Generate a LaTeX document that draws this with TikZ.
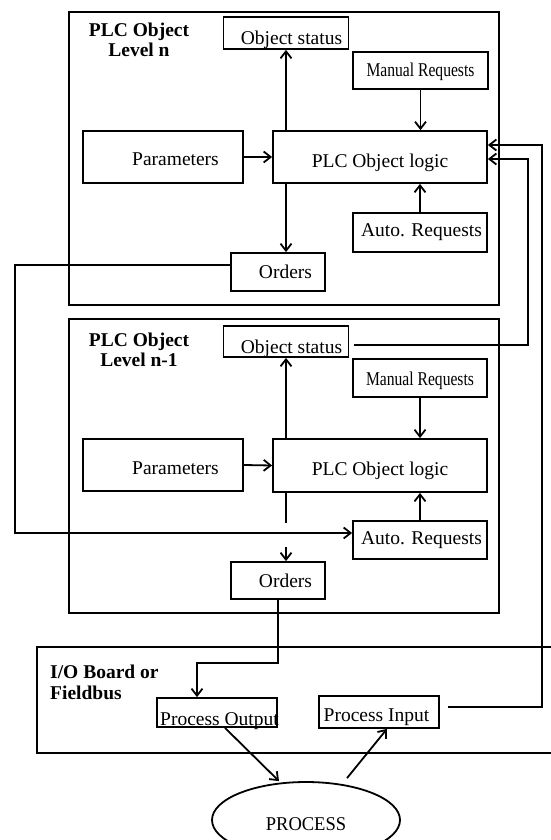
\documentclass[tikz,border=0pt]{standalone}
\usepackage{fontspec}
\setmainfont{Liberation Serif}
\usepackage{graphicx}
\usetikzlibrary{arrows.meta,shapes.geometric}
\newcommand\fs{\fontsize{19.5pt}{20pt}\selectfont}
\newcommand\bt[3]{\makebox[0pt]{\hspace*{#1}\raisebox{#2}{#3}}}
\begin{document}
\begin{tikzpicture}[x=1pt,y=-1pt,
  lw/.style={line width=1.8pt},
  box/.style={draw,line width=1.8pt,inner sep=0pt,text height=13pt,text depth=0pt,font=\fs},
  arr/.style={line width=1.8pt,-{Straight Barb[length=7pt,width=11pt,line width=1.8pt]}},
  ttl/.style={font=\fs\bfseries,inner sep=0pt}]
\useasboundingbox (0,0) rectangle (551,840);
\clip (0,0) rectangle (551,840);
% frames
\draw[lw] (69,12) rectangle (499,305);
\draw[lw] (69,319) rectangle (499,613);
\draw[lw] (37,647) rectangle (600,753);
% titles
\node[ttl,align=center,anchor=base] (tn) at (139,57) {PLC Object\\Level n};
\node[ttl,align=center,anchor=base] (tn1) at (139,366) {PLC Object\\Level n-1};
\node[ttl,align=left,anchor=base west] (tio) at (50,699) {I/O Board or\\[1pt]Fieldbus};
% level n
\node[box,minimum width=125pt,minimum height=32pt] (osn) at (286,33) {\bt{11pt}{-5.5pt}{Object status}};
\node[box,minimum width=135pt,minimum height=37pt] (mrn) at (420.5,70.5) {\bt{0pt}{0pt}{\scalebox{0.8}[1]{Manual Requests}}};
\node[box,minimum width=160pt,minimum height=52pt] (pn) at (163,157) {\bt{25pt}{-2pt}{Parameters}};
\node[box,minimum width=214pt,minimum height=52pt] (ln) at (380,157) {\bt{0pt}{-3.5pt}{PLC Object logic}};
\node[box,minimum width=134pt,minimum height=39pt] (arn) at (420,232.5) {\bt{3pt}{3pt}{Auto. Requests}};
\node[box,minimum width=94pt,minimum height=38pt] (ordn) at (278,272) {\bt{15pt}{0pt}{Orders}};
% level n-1
\node[box,minimum width=125pt,minimum height=31pt] (osn1) at (286,341.5) {\bt{11pt}{-5.5pt}{Object status}};
\node[box,minimum width=134pt,minimum height=38pt] (mrn1) at (420,378) {\bt{0pt}{-1pt}{\scalebox{0.8}[1]{Manual Requests}}};
\node[box,minimum width=160pt,minimum height=52pt] (pn1) at (163,465) {\bt{25pt}{-2.5pt}{Parameters}};
\node[box,minimum width=214pt,minimum height=53pt] (ln1) at (380,465.5) {\bt{0pt}{-3.5pt}{PLC Object logic}};
\node[box,minimum width=134pt,minimum height=38pt] (arn1) at (420,540) {\bt{3pt}{2pt}{Auto. Requests}};
\node[box,minimum width=94pt,minimum height=37pt] (ordn1) at (278,580.5) {\bt{15pt}{0pt}{Orders}};
% I/O
\node[box,minimum width=120pt,minimum height=29pt] (pout) at (217,712.5) {\bt{5pt}{-6pt}{Process Output}};
\node[box,minimum width=120pt,minimum height=32pt] (pin) at (379,712) {\bt{-5pt}{-3pt}{Process Input}};
\node[box,ellipse,minimum width=188pt,minimum height=76pt] (proc) at (306,820) {\bt{0pt}{-3.5pt}{\scalebox{0.95}[1]{PROCESS}}};
% helper coordinates
\coordinate (cL) at (15,533);
\coordinate (s1) at (286,547);
\coordinate (cR1) at (528,159);
\coordinate (cR2) at (542,145);
\coordinate (cB) at (197,663);
% level n connectors
\draw[arr] (osn.south |- ln.north) -- (osn.south);
\draw[arr] (osn.south |- ln.south) -- (osn.south |- ordn.north);
\draw[arr] (mrn.south) -- (mrn.south |- ln.north);
\draw[arr] (arn.north) -- (arn.north |- ln.south);
\draw[arr] (pn.east) -- (ln.west);
% level n-1 connectors
\draw[arr] (osn1.south |- ln1.north) -- (osn1.south);
\draw[lw] (osn1.south |- ln1.south) -- ++(0,30);
\draw[arr] (s1) -- (s1 |- ordn1.north);
\draw[arr] (mrn1.south) -- (mrn1.south |- ln1.north);
\draw[arr] (arn1.north) -- (arn1.north |- ln1.south);
\draw[arr] (pn1.east) -- (ln1.west);
% cross connections
\draw[arr] ([yshift=7pt]ordn.west) -| (cL) -- ([yshift=7pt]arn1.west);
\draw[arr] ([xshift=5pt,yshift=-3.5pt]osn1.east) -| (cR1) -- ([yshift=-2pt]ln.east);
\draw[arr] ([xshift=8pt,yshift=5pt]pin.east) -| (cR2) -- ([yshift=12pt]ln.east);
\draw[arr] (ordn1.south) |- (cB) -- (cB |- pout.north);
\draw[arr] ([xshift=8pt]pout.south) -- ([xshift=-27pt]proc.north);
\draw[arr] ([xshift=41pt,yshift=3pt]proc.north) -- ([xshift=8pt]pin.south);
\end{tikzpicture}
\end{document}
